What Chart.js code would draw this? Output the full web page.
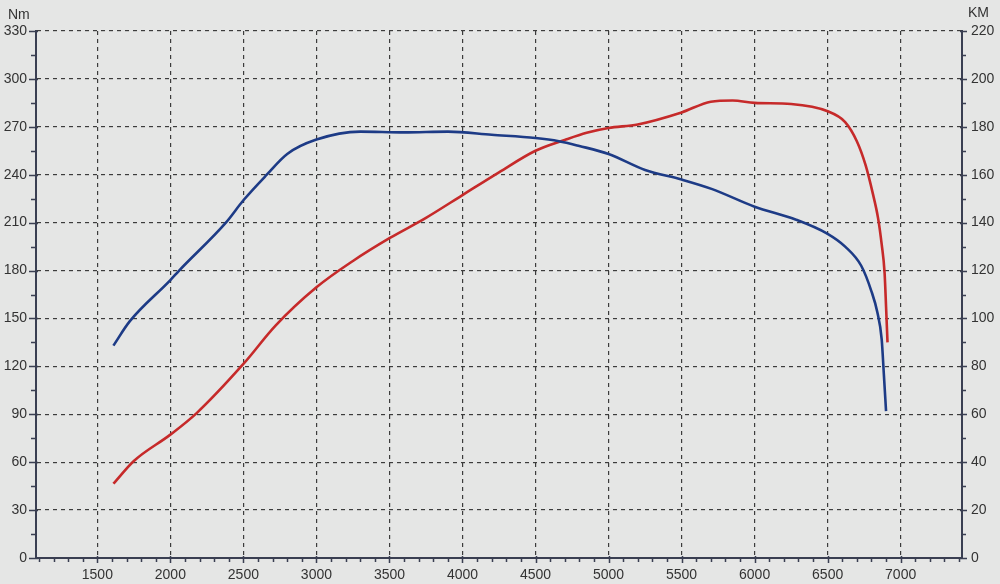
<!DOCTYPE html>
<html>
<head>
<meta charset="utf-8">
<script src="https://cdn.jsdelivr.net/npm/chart.js@4/dist/chart.umd.min.js"></script>
<style>
  html, body { margin: 0; padding: 0; background: #e5e6e5; }
  #wrap { width: 1000px; height: 584px; position: relative; }
</style>
</head>
<body>
<div id="wrap"><canvas id="dyno"></canvas></div>
<script>
// torque curve (Nm, left axis)
const torqueRpm = [1610, 1720, 2000, 2060, 2380, 2500, 2660, 2800, 3000, 3300, 3600, 3900, 4200, 4500, 4660, 4800, 5000, 5250, 5500, 5710, 6000, 6280, 6500, 6620, 6730, 6800, 6840, 6870, 6885, 6900];
const torqueNm  = [133, 148, 174, 180, 210, 224, 240, 253, 262, 267, 266.5, 267, 265, 263, 261, 258, 253, 243, 237, 231, 220, 212, 203, 195, 183, 167, 154, 137, 115, 92];

// power curve (KM, right axis)
const powerRpm = [1610, 1750, 2000, 2180, 2500, 2720, 3000, 3250, 3500, 3750, 4000, 4250, 4500, 4700, 4850, 5000, 5200, 5500, 5700, 5850, 6000, 6250, 6500, 6620, 6700, 6760, 6810, 6845, 6870, 6890, 6900, 6910];
const powerKM  = [31, 40.5, 51.5, 60.5, 81, 97, 113, 124, 133.5, 142, 151.5, 161, 170, 174.5, 177.5, 179.5, 181, 186, 190.5, 191, 190, 189.5, 186.5, 182, 174, 164, 152, 142, 131, 119, 105, 90];

// axes
const rpmMin = 1080, rpmMax = 7420;
const rpmTicks = [1500, 2000, 2500, 3000, 3500, 4000, 4500, 5000, 5500, 6000, 6500, 7000];
const nmMax = 330, nmStep = 30;
const kmMax = 220, kmStep = 20;

const axisColor = '#3a3f52';
const gridColor = '#3c3c3c';
const labelFont = { family: "'Liberation Sans', Arial, sans-serif", size: 14 };

// tick marks + unit labels drawn off the scales
const axisDecor = {
    id: 'axisDecor',
    afterDraw(chart) {
        const ctx = chart.ctx;
        const x = chart.scales.x, yl = chart.scales.yNm, yr = chart.scales.yKm;
        ctx.save();
        ctx.strokeStyle = axisColor;
        ctx.lineWidth = 1.5;
        ctx.beginPath();
        for (let v = Math.ceil(rpmMin / 100) * 100; v <= rpmMax; v += 100) {
            const px = Math.round(x.getPixelForValue(v)) + 0.5;
            const major = v % 500 === 0;
            ctx.moveTo(px, x.top - (major ? 2 : 0));
            ctx.lineTo(px, x.top + (major ? 5 : 4));
        }
        for (let v = 0; v <= nmMax; v += nmStep / 2) {
            const py = Math.round(yl.getPixelForValue(v)) + 0.5;
            const major = v % nmStep === 0;
            ctx.moveTo(yl.right - (major ? 7 : 5), py);
            ctx.lineTo(yl.right + (major ? 2 : 0), py);
        }
        for (let v = 0; v <= kmMax; v += kmStep / 2) {
            const py = Math.round(yr.getPixelForValue(v)) + 0.5;
            const major = v % kmStep === 0;
            ctx.moveTo(yr.left - (major ? 2 : 0), py);
            ctx.lineTo(yr.left + (major ? 5 : 4), py);
        }
        ctx.stroke();

        ctx.fillStyle = '#333';
        ctx.font = "14px 'Liberation Sans', Arial, sans-serif";
        ctx.textBaseline = 'middle';
        ctx.textAlign = 'left';
        ctx.fillText('Nm', 8, 15);
        ctx.fillText('KM', 968, 13);
        ctx.restore();
    }
};

new Chart(document.getElementById('dyno'), {
    type: 'line',
    data: {
        datasets: [
            {
                label: 'Nm',
                data: torqueRpm.map((r, i) => ({ x: r, y: torqueNm[i] })),
                yAxisID: 'yNm',
                borderColor: '#1d3b86',
                borderWidth: 2.6,
                pointRadius: 0,
                cubicInterpolationMode: 'monotone'
            },
            {
                label: 'KM',
                data: powerRpm.map((r, i) => ({ x: r, y: powerKM[i] })),
                yAxisID: 'yKm',
                borderColor: '#c62a2a',
                borderWidth: 2.6,
                pointRadius: 0,
                cubicInterpolationMode: 'monotone'
            }
        ]
    },
    options: {
        responsive: true,
        maintainAspectRatio: false,
        animation: false,
        layout: { padding: { top: 31, left: 0, right: 0, bottom: 0 } },
        plugins: {
            legend: { display: false },
            tooltip: { enabled: false }
        },
        scales: {
            x: {
                type: 'linear',
                min: rpmMin,
                max: rpmMax,
                afterBuildTicks: (s) => { s.ticks = rpmTicks.map(v => ({ value: v })); },
                afterFit: (s) => { s.height = 26; },
                ticks: { color: '#333', font: labelFont, padding: 9, maxRotation: 0, autoSkip: false,
                         callback: (v) => String(v) },
                grid: { color: gridColor, lineWidth: 1.2, drawTicks: false },
                border: { display: true, color: axisColor, width: 2, dash: [4, 4] }
            },
            yNm: {
                position: 'left',
                min: 0,
                max: nmMax,
                afterFit: (s) => { s.width = 36; },
                ticks: { stepSize: nmStep, color: '#333', font: labelFont, padding: 9 },
                grid: { color: gridColor, lineWidth: 1.2, drawTicks: false },
                border: { display: true, color: axisColor, width: 2, dash: [4, 4] }
            },
            yKm: {
                position: 'right',
                min: 0,
                max: kmMax,
                afterFit: (s) => { s.width = 38; },
                ticks: { stepSize: kmStep, color: '#333', font: labelFont, padding: 9 },
                grid: { drawOnChartArea: false, drawTicks: false },
                border: { display: true, color: axisColor, width: 2 }
            }
        }
    },
    plugins: [axisDecor]
});
</script>
</body>
</html>
